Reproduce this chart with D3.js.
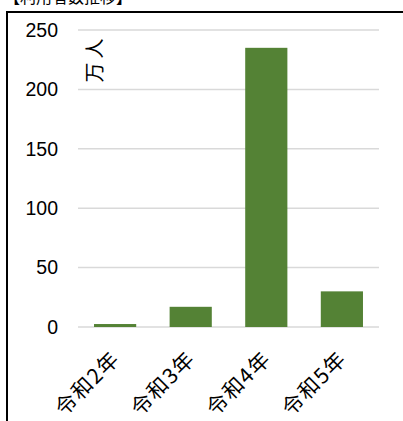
<!DOCTYPE html>
<html>
<head>
<meta charset="utf-8">
<script src="https://cdn.jsdelivr.net/npm/d3@7"></script>
<style>
  body { margin: 0; background: #fff; }
  svg { display: block; }
</style>
</head>
<body>
<div id="chart"></div>
<script>
// data
const years = ["令和2年", "令和3年", "令和4年", "令和5年"];
const values = [2.5, 17, 235, 30];   // 万人
const yTicks = [0, 50, 100, 150, 200, 250];
const title = "【利用者数推移】";
const unit = "万人";

const width = 403,
      height = 421,
      margin = ({top: 30, right: 24, bottom: 94, left: 78});

let svg = d3.select("#chart")
    .append("svg")
    .attr("width", width)
    .attr("height", height)
    .attr("viewBox", [0, 0, width, height]);

// frame of the pasted chart (only top and left edges are visible)
svg.append("path")
    .attr("d", `M7,${height} V12 H${width}`)
    .attr("fill", "none")
    .attr("stroke", "#000")
    .attr("stroke-width", 2);

// title, mostly cut off at the top
svg.append("text")
    .attr("x", 4)
    .attr("y", 3)
    .attr("font-family", "Noto Sans CJK JP")
    .attr("font-size", 16)
    .text(title);

let x = d3.scaleBand()
    .domain(years)
    .range([margin.left, width - margin.right])
    .paddingInner(0.442)
    .paddingOuter(0.212);

let y = d3.scaleLinear()
    .domain([0, 250])
    .range([height - margin.bottom, margin.top]);

// gridlines
svg.append("g")
    .selectAll("line")
    .data(yTicks)
    .join("line")
    .attr("x1", margin.left)
    .attr("x2", width - margin.right)
    .attr("y1", d => y(d))
    .attr("y2", d => y(d))
    .attr("stroke", "#d9d9d9")
    .attr("stroke-width", 1.5);

// y axis labels
const yAxis = g => g
    .attr("transform", `translate(${margin.left - 20},0)`)
    .call(d3.axisLeft(y).tickValues(yTicks).tickSize(0).tickPadding(0))
    .call(g => g.select(".domain").remove())
    .call(g => g.selectAll("text")
        .attr("font-family", "Liberation Sans")
        .attr("font-size", 19.5)
        .attr("fill", "#000"));

svg.append("g").call(yAxis);

// bars
svg.append("g")
    .selectAll("rect")
    .data(values)
    .join("rect")
    .attr("fill", "#548235")
    .attr("x", (d, i) => x(years[i]))
    .attr("width", x.bandwidth())
    .attr("y", d => y(d))
    .attr("height", d => y(0) - y(d));

// x labels, rotated
svg.append("g")
    .selectAll("text")
    .data(years)
    .join("text")
    .attr("transform", d => `translate(${x(d) + x.bandwidth() / 2 + 6},${y(0) + 33}) rotate(-45)`)
    .attr("text-anchor", "end")
    .attr("font-family", "Noto Sans CJK JP")
    .attr("font-size", 21)
    .attr("letter-spacing", 1.5)
    .text(d => d);

// unit label
svg.append("text")
    .attr("transform", `translate(${margin.left + 24},${y(226)}) rotate(-90)`)
    .attr("text-anchor", "middle")
    .attr("font-family", "Noto Sans CJK JP")
    .attr("font-size", 20)
    .attr("letter-spacing", 4)
    .text(unit);
</script>
</body>
</html>
